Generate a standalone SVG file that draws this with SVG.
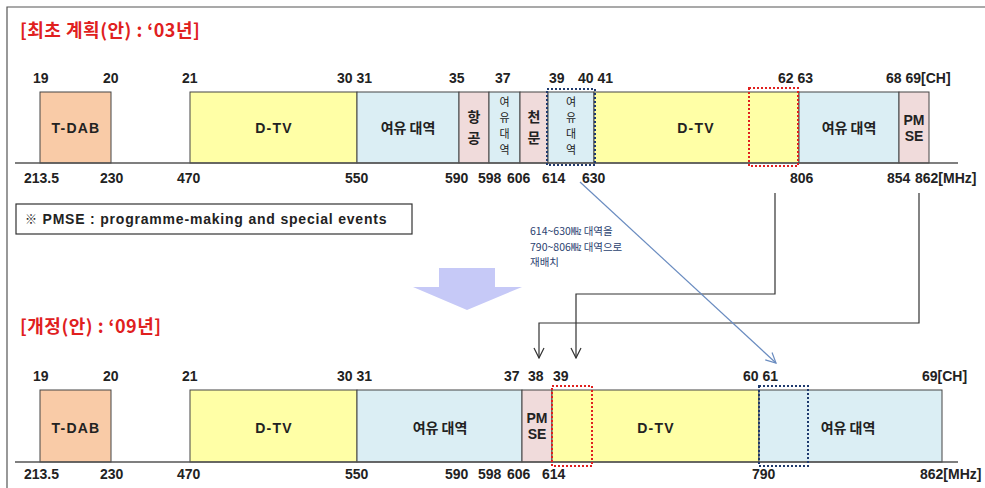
<svg xmlns="http://www.w3.org/2000/svg" width="985" height="488" viewBox="0 0 985 488">
<defs>
<style>
.t{font-family:"Liberation Sans","Noto Sans CJK KR",sans-serif;font-weight:bold;font-size:14px;fill:#222}
.ls{letter-spacing:1.2px}
.k{font-family:"Noto Sans CJK KR","Liberation Sans",sans-serif;font-weight:bold;font-size:14px;fill:#222}
.kv{font-family:"Noto Sans CJK KR","Liberation Sans",sans-serif;font-size:11px;fill:#222;text-anchor:middle}
.title{font-family:"Noto Sans CJK KR","Liberation Sans",sans-serif;font-weight:bold;font-size:18px;fill:#e0201e}
.mid{text-anchor:middle}
.band{stroke:#444;stroke-width:1}
.dab{fill:#f9cba7}
.dtv{fill:#ffffa6}
.free{fill:#dbeef4}
.pink{fill:#f0dbdb}
.axis{stroke:#555;stroke-width:1.5}
.redbox{fill:none;stroke:#e0201e;stroke-width:2;stroke-dasharray:2 2}
.navybox{fill:none;stroke:#1f3a6e;stroke-width:2;stroke-dasharray:2 2}
.conn{fill:none;stroke:#333;stroke-width:1.2}
.blue{fill:none;stroke:#6a8cc0;stroke-width:1.2}
.note{font-family:"Noto Sans CJK KR","Liberation Sans",sans-serif;font-size:10.5px;fill:#2b4270}
</style>
<marker id="ah" viewBox="0 0 12 12" refX="11" refY="6" markerWidth="12" markerHeight="12" markerUnits="userSpaceOnUse" orient="auto">
<path d="M1,1 L11,6 L1,11" fill="none" stroke="#333" stroke-width="1.2"/>
</marker>
<marker id="ahb" viewBox="0 0 12 12" refX="11" refY="6" markerWidth="12" markerHeight="12" markerUnits="userSpaceOnUse" orient="auto">
<path d="M1,1 L11,6 L1,11" fill="none" stroke="#6a8cc0" stroke-width="1.2"/>
</marker>
</defs>
<rect width="985" height="488" fill="#fff"/>
<path d="M7,488 V7 H985" fill="none" stroke="#555" stroke-width="1.2"/>

<!-- Top section -->
<text class="title" x="20" y="37" letter-spacing="0.5">[최초 계획(안) : ‘03년]</text>

<g id="top-labels">
<text class="t" x="33" y="83">19</text>
<text class="t" x="103" y="83">20</text>
<text class="t" x="182" y="83">21</text>
<text class="t" x="337" y="83">30 31</text>
<text class="t" x="449" y="83">35</text>
<text class="t" x="495" y="83">37</text>
<text class="t" x="549" y="83">39</text>
<text class="t" x="578" y="83">40 41</text>
<text class="t" x="778" y="83">62 63</text>
<text class="t" x="886" y="83">68 69[CH]</text>
<text class="t" x="24" y="183">213.5</text>
<text class="t" x="100" y="183">230</text>
<text class="t" x="177" y="183">470</text>
<text class="t" x="345" y="183">550</text>
<text class="t" x="445" y="183">590</text>
<text class="t" x="478" y="183">598</text>
<text class="t" x="507" y="183">606</text>
<text class="t" x="542" y="183">614</text>
<text class="t" x="582" y="183">630</text>
<text class="t" x="790" y="183">806</text>
<text class="t" x="887" y="183">854</text>
<text class="t" x="915" y="183">862[MHz]</text>
</g>

<g id="top-tdab"><rect class="band dab" x="40" y="92" width="71" height="71"/><text class="t mid ls" x="76" y="133">T-DAB</text></g>
<g id="top-dtv1"><rect class="band dtv" x="190" y="92" width="167" height="71"/><text class="t mid ls" x="274" y="133">D-TV</text></g>
<g id="top-free1"><rect class="band free" x="357" y="92" width="102" height="71"/><text class="k mid" x="408" y="133">여유 대역</text></g>
<g id="top-air"><rect class="band pink" x="459" y="92" width="30" height="71"/><text class="k mid" x="474" y="122">항<tspan x="474" dy="20.5">공</tspan></text></g>
<g id="top-free2"><rect class="band free" x="489" y="92" width="31" height="71"/><text class="kv" x="504.5" y="106">여<tspan x="504.5" dy="16">유</tspan><tspan x="504.5" dy="16">대</tspan><tspan x="504.5" dy="16">역</tspan></text></g>
<g id="top-astro"><rect class="band pink" x="520" y="92" width="28" height="71"/><text class="k mid" x="534" y="122">천<tspan x="534" dy="20.5">문</tspan></text></g>
<g id="top-free3"><rect class="band free" x="548" y="92" width="46" height="71"/><text class="kv" x="571" y="106">여<tspan x="571" dy="16">유</tspan><tspan x="571" dy="16">대</tspan><tspan x="571" dy="16">역</tspan></text></g>
<g id="top-dtv2"><rect class="band dtv" x="594" y="92" width="205" height="71"/><text class="t mid ls" x="696" y="133">D-TV</text></g>
<g id="top-free4"><rect class="band free" x="799" y="92" width="100" height="71"/><text class="k mid" x="849" y="133">여유 대역</text></g>
<g id="top-pmse"><rect class="band pink" x="899" y="92" width="30" height="71"/><text class="t mid" x="914" y="125">PM<tspan x="914" dy="16">SE</tspan></text></g>
<line class="axis" x1="15" y1="163" x2="958" y2="163"/>
<rect class="navybox" x="547" y="89" width="48" height="76"/>
<rect class="redbox" x="749" y="88" width="49" height="78"/>

<g id="note">
<rect x="16" y="204" width="396" height="30" fill="#fff" stroke="#333" stroke-width="1.2"/>
<text class="t" x="25" y="224" letter-spacing="0.8"><tspan font-weight="normal" font-size="12">※</tspan> PMSE : programme-making  and special events</text>
</g>

<g id="relocate-note">
<text class="note" x="530" y="235">614~630㎒ 대역을<tspan x="530" dy="15.5">790~806㎒ 대역으로</tspan><tspan x="530" dy="15.5">재배치</tspan></text>
</g>

<polygon id="big-arrow" points="439,268 495,268 495,287 522,287 467,310 413,287 439,287" fill="#c6c9f7"/>

<!-- Bottom section -->
<text class="title" x="20" y="333" letter-spacing="0.5">[개정(안) : ‘09년]</text>

<g id="bottom-labels">
<text class="t" x="33" y="381">19</text>
<text class="t" x="103" y="381">20</text>
<text class="t" x="182" y="381">21</text>
<text class="t" x="337" y="381">30 31</text>
<text class="t" x="504" y="381">37</text>
<text class="t" x="528" y="381">38</text>
<text class="t" x="553" y="381">39</text>
<text class="t" x="743" y="381">60 61</text>
<text class="t" x="922" y="381">69[CH]</text>
<text class="t" x="24" y="479">213.5</text>
<text class="t" x="100" y="479">230</text>
<text class="t" x="177" y="479">470</text>
<text class="t" x="345" y="479">550</text>
<text class="t" x="445" y="479">590</text>
<text class="t" x="478" y="479">598</text>
<text class="t" x="507" y="479">606</text>
<text class="t" x="542" y="479">614</text>
<text class="t" x="752" y="479">790</text>
<text class="t" x="920" y="479">862[MHz]</text>
</g>

<g id="bot-tdab"><rect class="band dab" x="40" y="390" width="71" height="72"/><text class="t mid ls" x="76" y="433">T-DAB</text></g>
<g id="bot-dtv1"><rect class="band dtv" x="190" y="390" width="167" height="72"/><text class="t mid ls" x="274" y="433">D-TV</text></g>
<g id="bot-free1"><rect class="band free" x="357" y="390" width="165" height="72"/><text class="k mid" x="440" y="433">여유 대역</text></g>
<g id="bot-pmse"><rect class="band pink" x="522" y="390" width="30" height="72"/><text class="t mid" x="537" y="423">PM<tspan x="537" dy="16">SE</tspan></text></g>
<g id="bot-dtv2"><rect class="band dtv" x="552" y="390" width="207" height="72"/><text class="t mid ls" x="656" y="433">D-TV</text></g>
<g id="bot-free2"><rect class="band free" x="759" y="390" width="183" height="72"/><text class="k mid" x="848" y="433">여유 대역</text></g>
<line class="axis" x1="15" y1="462" x2="958" y2="462"/>
<rect class="redbox" x="552" y="386" width="40" height="80"/>
<rect class="navybox" x="759" y="386" width="49" height="80"/>

<g id="connectors">
<path class="conn" d="M775,193 V294 H576 V358" marker-end="url(#ah)"/>
<path class="conn" d="M919,193 V323 H539 V358" marker-end="url(#ah)"/>
<path class="blue" d="M580,182 L776,363" marker-end="url(#ahb)"/>
</g>
</svg>
